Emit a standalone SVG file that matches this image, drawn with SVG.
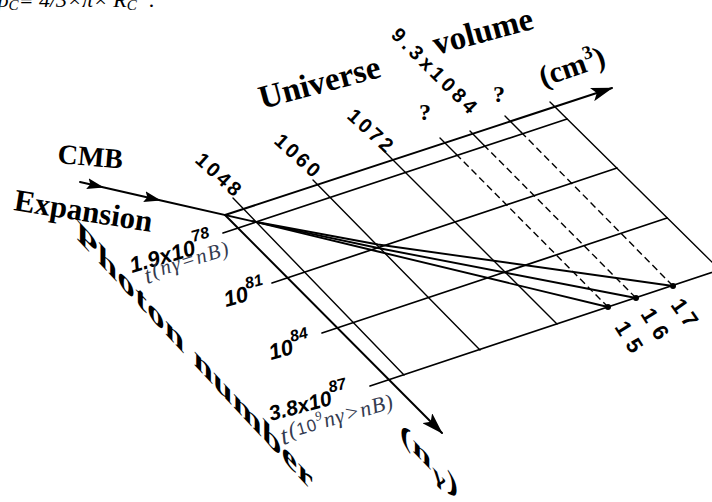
<svg xmlns="http://www.w3.org/2000/svg" width="712" height="502" viewBox="0 0 712 502">
<defs>
<style>
.ln{stroke:#000;fill:none;stroke-width:1.4;stroke-linecap:round}
.row{stroke-width:1.7}
.ax{stroke-width:2}
.dash{stroke-dasharray:7 4;stroke-linecap:butt}
.hv{stroke-width:1.9}
.tb{font-family:"Liberation Serif","Times New Roman",serif;font-weight:bold;fill:#000}
.nb{font-family:"Liberation Sans",Arial,sans-serif;font-weight:bold;fill:#000}
.ni{font-family:"Liberation Sans",Arial,sans-serif;font-weight:bold;font-style:italic;fill:#000}
.ti{font-family:"Liberation Serif","Times New Roman",serif;font-style:italic;fill:#343b50}
.fm{font-family:"Liberation Serif","Times New Roman",serif;font-style:italic;fill:#000}
</style>
<marker id="ah" markerUnits="userSpaceOnUse" viewBox="0 0 22 14" markerWidth="22" markerHeight="14" refX="21" refY="7" orient="auto"><path d="M0,0 L22,7 L0,14 L5,7 z" fill="#000"/></marker>
<marker id="ahs" markerUnits="userSpaceOnUse" viewBox="0 0 17 11" markerWidth="17" markerHeight="11" refX="16" refY="5.5" orient="auto"><path d="M0,0 L17,5.5 L0,11 L3,5.5 z" fill="#000"/></marker>
</defs>
<rect width="712" height="502" fill="#fff"/>

<g id="formula"><text class="fm" x="-2" y="7" font-size="22">ρ<tspan font-size="15" dy="3">C</tspan><tspan dy="-3">≡  4/3×π× R</tspan><tspan font-size="15" dy="3">C</tspan><tspan font-size="14" dy="-13">3</tspan><tspan dy="10">  .</tspan></text></g>

<g id="connectors">
  <path class="ln ax" d="M225,215 L612,88" marker-end="url(#ah)"/>
  <path class="ln ax" d="M225,215 L442,433" marker-end="url(#ah)"/>
  <path class="ln row" d="M223,233 L567,119"/>
  <path class="ln row" d="M272,283 L617,168"/>
  <path class="ln row" d="M322,333 L667,218"/>
  <path class="ln row" d="M370,386 L722,269"/>
  <path class="ln" d="M233,198 L404,375"/>
  <path class="ln" d="M313,180 L480,350"/>
  <path class="ln" d="M383,150 L557,324"/>
  <path class="ln" d="M440,138 L456,154"/>
  <path class="ln dash" d="M456,154 L608,307"/>
  <path class="ln" d="M470,131 L483.5,144.7"/>
  <path class="ln dash" d="M483.5,144.7 L636,298"/>
  <path class="ln" d="M505,116 L521,132"/>
  <path class="ln dash" d="M521,132 L673,286"/>
  <path class="ln" d="M550,102 L722,272"/>
  <path class="ln hv" d="M80,182 L103,187.2 L160,200.2 L253,221.4" marker-mid="url(#ahs)"/>
  <path class="ln hv" d="M253,221.4 L378,244.5 L673,286"/>
  <path class="ln hv" d="M253,221.4 L378,248 L636,298"/>
  <path class="ln hv" d="M253,221.4 L378,251.5 L608,307"/>
</g>

<g id="dots" fill="#000">
  <circle cx="608" cy="307" r="3"/>
  <circle cx="636" cy="298" r="3"/>
  <circle cx="673" cy="286" r="3"/>
</g>

<g id="title-universe"><text class="tb" font-size="33" transform="translate(262,109) rotate(-15)">Universe</text></g>
<g id="title-volume"><text class="tb" font-size="33" transform="translate(436,55) rotate(-15)">volume</text></g>
<g id="unit-cm3"><text class="tb" font-size="30" transform="translate(543,87) rotate(-19)">(cm<tspan font-size="19" dy="-12">3</tspan><tspan dy="12">)</tspan></text></g>
<g id="q1"><text class="tb" font-size="24" x="419" y="120">?</text></g>
<g id="q2"><text class="tb" font-size="24" x="493" y="102">?</text></g>
<g id="v84"><text class="nb" font-size="20" letter-spacing="4" transform="translate(390,36) rotate(45)">9.3x10<tspan>84</tspan></text></g>
<g id="v48"><text class="nb" font-size="20" letter-spacing="3" transform="translate(194,161.6) rotate(42)">10<tspan>48</tspan></text></g>
<g id="v60"><text class="nb" font-size="20" letter-spacing="3" transform="translate(273,142.6) rotate(42)">10<tspan>60</tspan></text></g>
<g id="v72"><text class="nb" font-size="20" letter-spacing="3" transform="translate(346,117.6) rotate(42)">10<tspan>72</tspan></text></g>

<g id="cmb"><text class="tb" font-size="28" transform="translate(57,163) rotate(5)">CMB</text></g>
<g id="expansion"><text class="tb" font-size="31" transform="translate(13,210) rotate(9)">Expansion</text></g>
<g id="photon-number"><text class="tb" font-size="30" letter-spacing="0.4" transform="matrix(1.15,1.233,0,1,76.4,238.6)">Photon number</text></g>
<g id="n-gamma"><text class="tb" font-size="26" letter-spacing="1" transform="matrix(1.3,1.35,0,1,400,438)">(n<tspan font-size="21" dy="5">γ</tspan><tspan dy="-5">)</tspan></text></g>

<g id="n78"><text class="ni" font-size="22" transform="translate(132,273) rotate(-16)">1.9x10<tspan font-size="16" dy="-13">78</tspan></text>
  <text class="ti" font-size="24" transform="translate(147,284) rotate(-17)">t<tspan font-size="21" dx="2" dy="-4" letter-spacing="1.5">(nγ=nB)</tspan></text></g>
<g id="n81"><text class="ni" font-size="22" transform="translate(226,307) rotate(-15)">10<tspan font-size="16" dy="-12">81</tspan></text></g>
<g id="n84"><text class="ni" font-size="22" transform="translate(271,360) rotate(-15)">10<tspan font-size="16" dy="-12">84</tspan></text></g>
<g id="n87"><text class="ni" font-size="21" transform="translate(271,421) rotate(-15)">3.8x10<tspan font-size="16" dy="-12">87</tspan></text>
  <text class="ti" font-size="26" transform="translate(283,445) rotate(-16)">t<tspan font-size="22" dx="2" dy="-5" letter-spacing="1">(<tspan font-family="Liberation Sans, Arial, sans-serif" font-style="normal" font-size="17">10</tspan><tspan font-size="13" dy="-9">9</tspan><tspan dy="9">nγ&gt;nB)</tspan></tspan></text></g>

<g id="t15"><text class="nb" font-size="22" letter-spacing="8" transform="translate(614,327) rotate(58)">15</text></g>
<g id="t16"><text class="nb" font-size="22" letter-spacing="8" transform="translate(640,314) rotate(58)">16</text></g>
<g id="t17"><text class="nb" font-size="22" letter-spacing="5" transform="translate(670,305) rotate(55)">17</text></g>
</svg>
